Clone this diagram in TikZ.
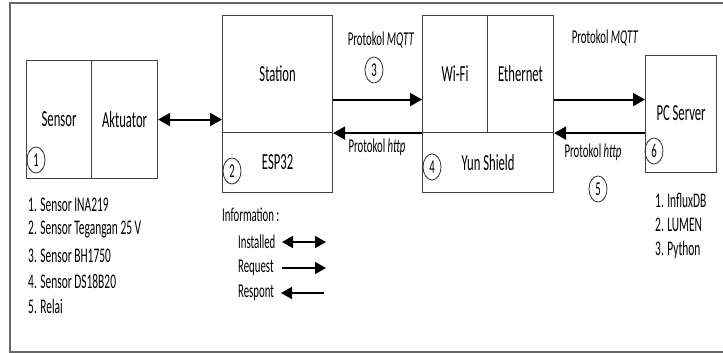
\documentclass[tikz,border=0pt]{standalone}
\usepackage{fontspec}
\setmainfont[FakeStretch=0.55]{Carlito}
\usetikzlibrary{arrows.meta,shapes.geometric,calc}
\begin{document}
\begin{tikzpicture}[x=1pt,y=-1pt,
  box/.style={draw=black!75,line width=1.1pt,inner sep=0pt,anchor=north west},
  big/.style={font=\fontsize{23}{26}\selectfont},
  txt/.style={font=\fontsize{19.6}{22}\selectfont,inner sep=0pt},
  lst/.style={font=\fontsize{20.8}{23}\selectfont,inner sep=0pt,anchor=west},
  num/.style={ellipse,draw=black!80,line width=0.8pt,minimum width=18pt,minimum height=26pt,inner sep=0pt,font=\fontsize{19.6}{22}\selectfont},
  req/.style={line width=2pt,-{Triangle[length=12pt,width=13pt]}},
  dbl/.style={line width=2pt,{Triangle[length=12pt,width=13pt]}-{Triangle[length=12pt,width=13pt]}},
  leg/.style={line width=1.6pt,-{Triangle[length=11pt,width=12pt]}},
  legd/.style={line width=1.6pt,{Triangle[length=11pt,width=12pt]}-{Triangle[length=11pt,width=12pt]}}
]
\useasboundingbox (0,0) rectangle (723,353);
\draw[black!60,line width=1.5pt] (725,3) -- (10,3) -- (10,352) -- (725,352);

% boxes
\node[box,big,minimum width=65pt,minimum height=118pt] (sen) at (26,60) {Sensor};
\node[box,big,minimum width=66pt,minimum height=118pt] (akt) at (91,60) {Aktuator};
\node[box,big,minimum width=110pt,minimum height=117pt] (sta) at (222,15) {Station};
\node[box,big,minimum width=110pt,minimum height=60pt] (esp) at (222,132) {ESP32};
\node[box,big,minimum width=65pt,minimum height=117pt] (wifi) at (422,15) {Wi-Fi};
\node[box,big,minimum width=66pt,minimum height=117pt] (eth) at (487,15) {Ethernet};
\node[box,big,minimum width=131pt,minimum height=60pt] (yun) at (422,132) {Yun Shield};
\node[box,big,minimum width=71pt,minimum height=117pt,text depth=0pt] (pc) at (645,55) {\raisebox{3pt}{PC Server}};

% numbers
\node[num] (n1) at (36,160) {1};
\node[num] (n2) at (232,171) {2};
\node[num] (n3) at (374,70) {3};
\node[num] (n4) at (432,167) {4};
\node[num] (n5) at (598,189) {5};
\node[num] (n6) at (654,151) {6};

% protocol labels
\node[txt] (p1) at (381,40) {Protokol \textit{MQTT}};
\node[txt] (p2) at (377,147) {Protokol \textit{http}};
\node[txt] (p3) at (605,38) {Protokol \textit{MQTT}};
\node[txt] (p4) at (593,152) {Protokol \textit{http}};

% connectors
\draw[dbl] (akt.east) -- (akt.east -| sta.west);
\draw[req] ([yshift=-25.5pt]sta.east) -- ([yshift=-25.5pt]sta.east -| wifi.west);
\draw[req] (wifi.south west) -- (sta.south east);
\draw[req] ([yshift=-25.5pt]eth.east) -- ([yshift=-25.5pt]eth.east -| pc.west);
\draw[req] (eth.south east -| pc.west) -- (eth.south east);

% sensor list
\node[lst] (l1) at (28,205) {1. Sensor INA219};
\node[lst] (l2) at (28,230) {2. Sensor Tegangan 25 V};
\node[lst] (l3) at (28,256) {3. Sensor BH1750};
\node[lst] (l4) at (28,281) {4. Sensor DS18B20};
\node[lst] (l5) at (28,306) {5. Relai};

% pc list
\node[lst] (k1) at (655,200) {1. InfluxDB};
\node[lst] (k2) at (655,225) {2. LUMEN};
\node[lst] (k3) at (655,250) {3. Python};

% legend
\node[txt,anchor=west] (info) at (222,215) {Information :};
\node[txt,anchor=west] (ins) at (238,242) {Installed};
\node[txt,anchor=west] (rq) at (238,268) {Request};
\node[txt,anchor=west] (rs) at (238,293) {Respont};
\coordinate (a1) at (282,242); \coordinate (a2) at (326,242);
\coordinate (b1) at (282,268); \coordinate (b2) at (326,268);
\coordinate (c1) at (324,293); \coordinate (c2) at (281,293);
\draw[legd] (a1) -- (a2);
\draw[leg] (b1) -- (b2);
\draw[leg] (c1) -- (c2);
\end{tikzpicture}
\end{document}
